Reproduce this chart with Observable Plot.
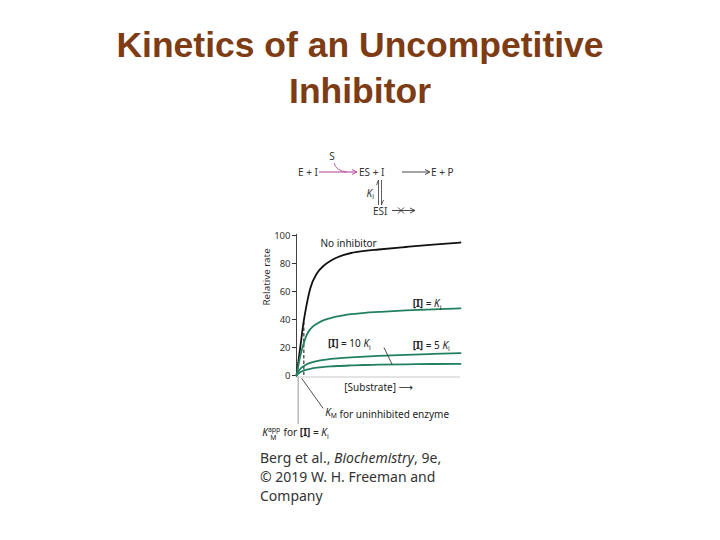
<!DOCTYPE html>
<html>
<head>
<meta charset="utf-8">
<script src="https://cdn.jsdelivr.net/npm/d3@7"></script>
<script src="https://cdn.jsdelivr.net/npm/@observablehq/plot@0.6"></script>
<style>
  html, body { margin: 0; padding: 0; background: #fff; }
  #page { position: relative; width: 720px; height: 540px; overflow: hidden; }
  #title { position: absolute; left: 0; top: 22px; width: 720px; text-align: center;
    font-family: "Liberation Sans", Arial, sans-serif; font-weight: bold; font-size: 35.5px;
    line-height: 46px; color: #7d3c14; }
  #scheme { position: absolute; left: 0; top: 0; }
  #chart { position: absolute; left: 0; top: 140px; }
  #caption { position: absolute; left: 260px; top: 448px; font-family: "Noto Sans", "Open Sans", sans-serif;
    font-size: 14px; line-height: 19px; color: #333; }
</style>
</head>
<body>
<div id="page">
  <div id="title">Kinetics of an Uncompetitive<br>Inhibitor</div>
  <svg id="scheme" width="720" height="230" font-family="Noto Sans, DejaVu Sans, sans-serif" font-size="10" fill="#333">
    <text x="332" y="160" text-anchor="middle">S</text>
    <text x="298" y="176">E + I</text>
    <path d="M334,163 Q336,171 347,172" fill="none" stroke="#b03a92" stroke-width="0.8"/>
    <line x1="319" y1="172" x2="356" y2="172" stroke="#b03a92" stroke-width="1"/>
    <path d="M352,169.5 L357,172 L352,174.5" fill="none" stroke="#b03a92" stroke-width="0.9"/>
    <text x="359" y="176">ES + I</text>
    <line x1="402" y1="172" x2="429" y2="172" stroke="#333" stroke-width="0.9"/>
    <path d="M425,169.5 L430,172 L425,174.5" fill="none" stroke="#333" stroke-width="0.9"/>
    <text x="431" y="176">E + P</text>
    <line x1="378.5" y1="180" x2="378.5" y2="205" stroke="#333" stroke-width="0.8"/>
    <path d="M378.5,180 L376.5,185" fill="none" stroke="#333" stroke-width="0.8"/>
    <line x1="381.5" y1="180" x2="381.5" y2="205" stroke="#333" stroke-width="0.8"/>
    <path d="M381.5,205 L383.5,200" fill="none" stroke="#333" stroke-width="0.8"/>
    <text x="366.5" y="197" font-style="italic">K<tspan font-size="7" dy="2" font-style="normal">i</tspan></text>
    <text x="373" y="215">ESI</text>
    <line x1="392" y1="210.5" x2="414" y2="210.5" stroke="#333" stroke-width="0.9"/>
    <path d="M398,207.5 L404,213.5 M404,207.5 L398,213.5" fill="none" stroke="#333" stroke-width="0.9"/>
    <path d="M410,208 L415,210.5 L410,213" fill="none" stroke="#333" stroke-width="0.9"/>
  </svg>
  <div id="chart"></div>
  <div id="caption">Berg et al., <i>Biochemistry</i>, 9e,<br>© 2019 W. H. Freeman and<br>Company</div>
</div>
<script>
// Substrate concentration (arbitrary units, x axis has no ticks)
const substrate   = [0, 0.3, 0.6, 1, 1.5, 2, 3, 4, 5, 6, 8, 10, 12, 16, 20, 24];
// Relative rate
const noInhibitor = [0, 11, 22, 37, 51, 62, 73, 78.5, 82, 84.5, 87.5, 89, 90, 91.8, 93.5, 95];
const iEqKi       = [0, 8, 15, 22, 29, 33, 37, 39.5, 41, 42.2, 43.8, 44.8, 45.4, 46.5, 47.3, 48];
const i5Ki        = [0, 3, 5, 6.5, 8, 9, 10.3, 11.2, 11.8, 12.3, 13, 13.5, 14, 14.8, 15.4, 16];
const i10Ki       = [0, 1.5, 2.5, 3.4, 4.2, 4.8, 5.6, 6.1, 6.5, 6.8, 7.2, 7.5, 7.7, 8, 8.2, 8.3];
const seriesNames = ["No inhibitor", "[I] = Ki", "[I] = 5 Ki", "[I] = 10 Ki"];
const seriesColors = ["#111111", "#23805f", "#23805f", "#23805f"];
const yTicks = [0, 20, 40, 60, 80, 100];
const kmUninhibited = 1.07;   // substrate at KM (dashed marker)
const kmAtCurve = 40;         // top of the dashed marker
const kmAppKi = 0.25;         // substrate at KM app for [I] = Ki

// Annotation labels (markup: [I] bold, K_x italic K with subscript, ^app superscript)
const labelText = ["No inhibitor", "[I] = K_i", "[I] = 10 K_i", "[I] = 5 K_i", "[Substrate] ⟶",
                   "K_M for uninhibited enzyme", "K_M^app for [I] = K_i"];
const labelX = [3.5, 17, 4.6, 17, 7, 4.2, -5];
const labelY = [94, 51, 22.5, 21.5, -9, -26.5, -41];

const allSeries = [noInhibitor, iEqKi, i5Ki, i10Ki];
const curves = allSeries.flatMap((vals, k) =>
  vals.map((v, i) => ({x: substrate[i], y: v, series: seriesNames[k]})));
const labels = labelText.map((t, i) => ({text: t, x: labelX[i], y: labelY[i]}));

const font = "'Noto Sans', 'DejaVu Sans', sans-serif";

const plot = Plot.plot({
  width: 720,
  height: 300,
  marginLeft: 296,
  marginRight: 260,
  marginTop: 95,
  marginBottom: 65,
  style: {fontFamily: font, fontSize: "9.5px", color: "#333", background: "transparent", overflow: "visible"},
  x: {domain: [0, 24], axis: null},
  y: {domain: [0, 100], ticks: yTicks, tickSize: 4, tickPadding: 2, label: null},
  color: {domain: seriesNames, range: seriesColors},
  marks: [
    Plot.ruleY([0], {x1: 0, x2: 24, stroke: "#c9c9c9", strokeWidth: 1, dy: 1.5}),
    Plot.ruleX([0], {y1: 0, y2: 100.8, stroke: "#444", strokeWidth: 1}),
    Plot.ruleX([kmAppKi], {y1: -1, y2: -35, stroke: "#bdbdbd", strokeWidth: 1.6}),
    Plot.ruleX([kmUninhibited], {y1: 0, y2: kmAtCurve, stroke: "#444", strokeWidth: 1.3, strokeDasharray: "3.5,2"}),
    Plot.line(curves, {x: "x", y: "y", z: "series", stroke: "series", strokeWidth: 1.8, curve: "monotone-x"}),
    Plot.link([{x1: 12.8, y1: 20, x2: 14, y2: 7.8}], {x1: "x1", y1: "y1", x2: "x2", y2: "y2", stroke: "#222", strokeWidth: 0.8}),
    Plot.link([{x1: 0.75, y1: -2, x2: 3.9, y2: -23.5}], {x1: "x1", y1: "y1", x2: "x2", y2: "y2", stroke: "#222", strokeWidth: 0.8}),
    Plot.text(labels, {x: "x", y: "y", text: "text", textAnchor: "start", fill: "#222", fontSize: 10}),
    Plot.text(["Relative rate"], {frameAnchor: "left", rotate: -90, dx: -30, fill: "#333", fontSize: 9.8})
  ]
});

// Rich text for annotation labels
d3.select(plot).selectAll("text").each(function () {
  const el = this;
  if (el.querySelector("tspan")) return;
  const s = el.textContent;
  if (!/\[I\]|K_/.test(s)) return;
  el.textContent = "";
  const re = /\[I\]|K_(\w)(?:\^(\w+))?|[^\[K]+|./g;
  let m;
  const add = (txt, attrs) => {
    const t = document.createElementNS("http://www.w3.org/2000/svg", "tspan");
    t.textContent = txt;
    for (const k in attrs) t.setAttribute(k, attrs[k]);
    el.appendChild(t);
    return t;
  };
  while ((m = re.exec(s))) {
    if (m[0] === "[I]") add("[I]", {"font-weight": "bold"});
    else if (m[1]) {
      add("K", {"font-style": "italic"});
      if (m[2]) {
        add(m[2], {"font-size": 6.8, dy: -4});
        add(m[1], {"font-size": 6.8, dy: 7.5, dx: -10});
        add("\u2009", {dy: -3.5, dx: 3});
      } else {
        add(m[1], {"font-size": 6.8, dy: 2.5});
        add("", {dy: -2.5});
      }
    } else add(m[0], {});
  }
});

document.getElementById("chart").appendChild(plot);
</script>
</body>
</html>
